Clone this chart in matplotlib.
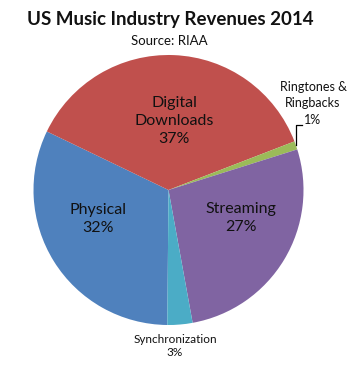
import numpy as np
import matplotlib.pyplot as plt

plt.rcParams['font.family'] = ['Lato', 'DejaVu Sans']

# data (Excel order)
categories = ['Physical', 'Digital\nDownloads', 'Ringtones &\nRingbacks', 'Streaming', 'Synchronization']
shares = [32, 37, 1, 27, 3]
colors = ['#4F81BD', '#C0504D', '#9BBB59', '#8064A2', '#4BACC6']

W, H = 352, 377
fig = plt.figure(figsize=(W / 100, H / 100), dpi=100)

# pie geometry in pixels
cx, cy, r = 168.5, 190, 135
ax = fig.add_axes([(cx - r) / W, (H - cy - r) / H, 2 * r / W, 2 * r / H])
wedges, _ = ax.pie(shares, colors=colors, startangle=269.5, counterclock=False,
                   radius=1, wedgeprops=dict(linewidth=0))
ax.set_xlim(-1, 1)
ax.set_ylim(-1, 1)
ax.set_aspect('equal')
ax.axis('off')


def px(x, y):
    # pixel position -> data coords of the pie axes
    return (x - cx) / r, (cy - y) / r


# label layout: (pixel x, pixel y of block centre, font size, line spacing)
label_pos = {
    0: (98, 219, 11.5, 1.4),
    1: (174, 121, 11.5, 1.4),
    2: (313, 103, 9, 1.45),
    3: (241, 218, 11.5, 1.4),
    4: (175, 346, 8.5, 1.25),
}
for i, (lx, ly, fs, ls) in label_pos.items():
    x, y = px(lx, ly)
    ax.text(x, y, f"{categories[i]}\n{shares[i]}%", ha='center', va='center',
            fontsize=fs, color='#111111', linespacing=ls, clip_on=False)

# leader line for the tiny ringtones slice
w = wedges[2]
mid = np.deg2rad((w.theta1 + w.theta2) / 2)
ex, ey = np.cos(mid), np.sin(mid)
ty = px(0, 125)[1]
tx = px(302, 0)[0]
ax.plot([ex, ex, tx], [ey, ty, ty], color='black', lw=0.9, clip_on=False)

fig.text(170 / W, 1 - 25 / H, 'US Music Industry Revenues 2014', ha='center', va='baseline',
         fontsize=13.5, fontweight='bold', color='#111111')
fig.text(169 / W, 1 - 45 / H, 'Source: RIAA', ha='center', va='baseline',
         fontsize=9.5, color='#111111')

fig.savefig('out.png', dpi=100, facecolor='white')
